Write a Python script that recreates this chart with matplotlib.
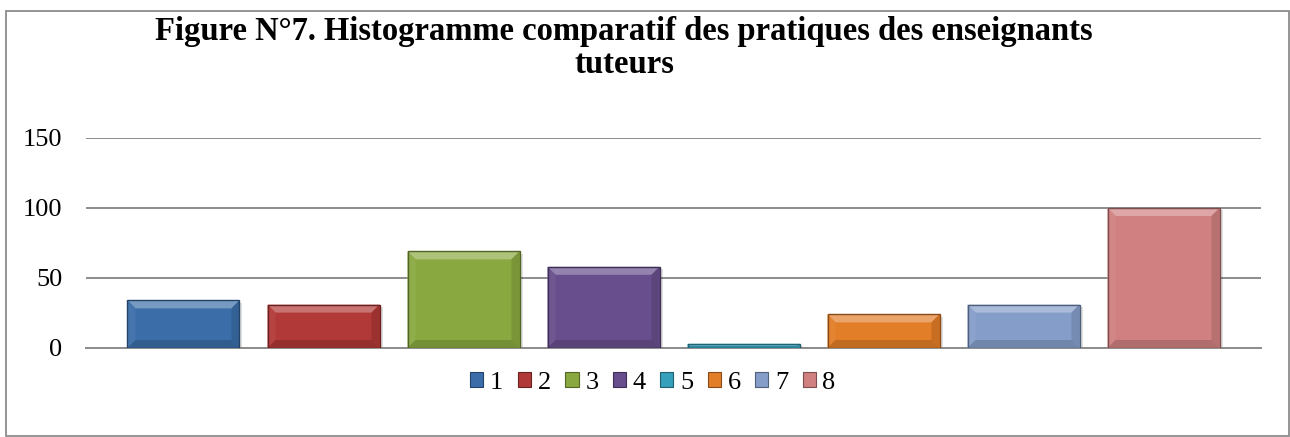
import matplotlib
matplotlib.use("Agg")
import matplotlib.pyplot as plt
from matplotlib.patches import Polygon, Rectangle
import matplotlib.colors as mcolors
import numpy as np

series = ["1", "2", "3", "4", "5", "6", "7", "8"]
values = [34, 31, 69, 58, 3, 24, 31, 100]
colors = ["#3b6ea8", "#b13937", "#89a940", "#684e8c", "#35a0bb", "#e27d28", "#859ec9", "#d08080"]
yticks = [0, 50, 100, 150]
title = "Figure N°7. Histogramme comparatif des pratiques des enseignants\ntuteurs"

plt.rcParams['font.family'] = ['Liberation Serif', 'DejaVu Serif']

W, H = 1290, 437
fig = plt.figure(figsize=(W / 100, H / 100), dpi=100)
ax = fig.add_axes([86 / W, (H - 348) / H, 1175 / W, 210 / H])

# outer chart frame
fig.patches.append(Rectangle((6 / W, 1 / H), 1283 / W, (H - 12) / H, transform=fig.transFigure,
                             fill=False, edgecolor="#8c8c8c", linewidth=1.3))

n = len(series)
step = 140 / 1175
bw = 112 / 1175
offsets = (np.arange(n) - (n - 1) / 2) * step

bx_px = 8  # bevel size in pixels
bx = bx_px / 1175
by = bx_px / 1.4

def shade(c, f):
    r = np.array(mcolors.to_rgb(c))
    if f > 0:
        r = r + (1 - r) * f
    else:
        r = r * (1 + f)
    return tuple(np.clip(r, 0, 1))

for i in range(n):
    x0 = offsets[i] - bw / 2
    x1 = offsets[i] + bw / 2
    v = values[i]
    c = colors[i]
    # shadow
    ax.bar(offsets[i] + 1.5 / 1175, v, width=bw + 3 / 1175, bottom=-1.6, color="#000000", alpha=0.12,
           zorder=2, linewidth=0)
    ax.bar(offsets[i], v, width=bw, color=c, linewidth=0, zorder=3)
    b = min(by, v / 2)
    bxx = bx * b / by
    # top bevel
    ax.add_patch(Polygon([[x0, v], [x1, v], [x1 - bxx, v - b], [x0 + bxx, v - b]],
                         closed=True, facecolor=shade(c, 0.3), edgecolor="none", zorder=4))
    # left bevel
    ax.add_patch(Polygon([[x0, v], [x0 + bxx, v - b], [x0 + bxx, b], [x0, 0]],
                         closed=True, facecolor=shade(c, 0.05), edgecolor="none", zorder=4))
    # right bevel
    ax.add_patch(Polygon([[x1, v], [x1 - bxx, v - b], [x1 - bxx, b], [x1, 0]],
                         closed=True, facecolor=shade(c, -0.12), edgecolor="none", zorder=4))
    # bottom bevel
    ax.add_patch(Polygon([[x0, 0], [x1, 0], [x1 - bxx, b], [x0 + bxx, b]],
                         closed=True, facecolor=shade(c, -0.15), edgecolor="none", zorder=4))
    # outline
    ax.add_patch(Rectangle((x0, 0), bw, v, fill=False, edgecolor=shade(c, -0.4), linewidth=1.0, zorder=5))

ax.set_xlim(-0.5, 0.5)
ax.set_ylim(0, 150)
ax.set_yticks(yticks)
ax.set_yticklabels([str(t) for t in yticks], fontsize=19)
ax.tick_params(axis="y", length=0, pad=17)
ax.set_xticks([])
ax.yaxis.grid(True, color="#8c8c8c", linewidth=1.4)
ax.set_axisbelow(True)
for s in ["left", "right", "top"]:
    ax.spines[s].set_visible(False)
ax.spines["bottom"].set_color("#8c8c8c")
ax.spines["bottom"].set_linewidth(1.4)

fig.text(624 / W, 1 - 48 / H, title, ha="center", va="center", fontsize=23.5, fontweight="bold",
         linespacing=1.05)

handles = [Rectangle((0, 0), 1, 1, facecolor=colors[i], edgecolor=shade(colors[i], -0.4), linewidth=0.8)
           for i in range(n)]
fig.legend(handles, series, loc="center", bbox_to_anchor=(653 / W, 1 - 383 / H), ncol=n, frameon=False,
           fontsize=19, handlelength=0.5, handleheight=0.5, handletextpad=0.25, columnspacing=0.55)

fig.savefig("out.png", dpi=100)
